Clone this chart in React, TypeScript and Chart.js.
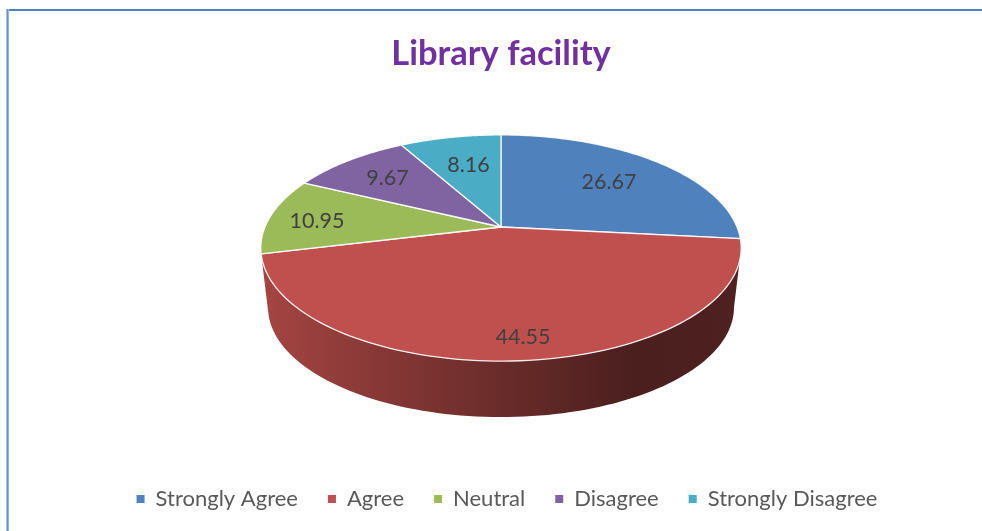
import React, { useEffect, useRef } from "react";
import { Chart, registerables } from "chart.js";

Chart.register(...registerables);

const categories = ["Strongly Agree", "Agree", "Neutral", "Disagree", "Strongly Disagree"];
const seriesValues = [26.67, 44.55, 10.95, 9.67, 8.16];
const sliceColors = ["#4f81bd", "#c0504d", "#9bbb59", "#8064a2", "#4bacc6"];

const FONT = "Lato, Carlito, Calibri, sans-serif";
const TILT = 0.1858;
const Y_RATIO = 0.4627;
const BASE_SCALE = 0.97;
const BASE_DROP = 60;
const LEGEND_SIZE = 22;
const LEGEND_GAP = 30;
const labelRadius = [0.667, 0.85, 0.79, 0.72, 0.65];
const labelTurn = [0, -1.5, -2, 0, 1];

function project(arc: any, angle: number, f = 1, k = 1, drop = 0) {
  const u = Math.cos(angle) * f;
  const v = Math.sin(angle) * f;
  const w = 1 - TILT * v;
  return {
    x: arc.x + (k * arc.outerRadius * u) / w,
    y: arc.y + drop + (k * arc.outerRadius * Y_RATIO * v) / w,
  };
}

function shade(hex: string, f: number) {
  const n = parseInt(hex.slice(1), 16);
  const c = [(n >> 16) & 255, (n >> 8) & 255, n & 255].map((x) => Math.round(x * f));
  return `rgb(${c[0]},${c[1]},${c[2]})`;
}

const pie3d = {
  id: "pie3d",
  afterLayout(chart: any) {
    const a = chart.chartArea;
    a.left = 265; a.right = 737; a.top = 135; a.bottom = 319;
    a.width = a.right - a.left; a.height = a.bottom - a.top;
    const t = chart.titleBlock;
    const titleH = t.bottom - t.top;
    t.left += 10; t.right += 10;
    t.top = 54 - titleH / 2; t.bottom = t.top + titleH;
    const l = chart.legend;
    const legH = l.bottom - l.top;
    l.left += 16; l.right += 16;
    l.top = 499 - LEGEND_GAP - LEGEND_SIZE / 2; l.bottom = l.top + legH;
  },
  beforeDatasetsDraw(chart: any) {
    const { ctx } = chart;
    const arcs = chart.getDatasetMeta(0).data as any[];
    const STEPS = 96;
    ctx.save();
    // side wall: only slices centred on the near half of the disc
    arcs.forEach((arc, i) => {
      if (Math.sin((arc.startAngle + arc.endAngle) / 2) <= 0) return;
      // the wall starts no earlier than the disc's widest point on the right
      const a0 = Math.max(arc.startAngle, Math.asin(TILT));
      const a1 = arc.endAngle;
      const col = sliceColors[i];
      const left = arc.x - arc.outerRadius * 1.018;
      const right = arc.x + arc.outerRadius * 1.018;
      const g = ctx.createLinearGradient(left, 0, right, 0);
      g.addColorStop(0, shade(col, 0.86));
      g.addColorStop(0.25, shade(col, 0.7));
      g.addColorStop(0.5, shade(col, 0.55));
      g.addColorStop(0.78, shade(col, 0.385));
      g.addColorStop(1, shade(col, 0.41));
      ctx.beginPath();
      for (let s = 0; s <= STEPS; s++) {
        const p = project(arc, a0 + ((a1 - a0) * s) / STEPS);
        s === 0 ? ctx.moveTo(p.x, p.y) : ctx.lineTo(p.x, p.y);
      }
      for (let s = STEPS; s >= 0; s--) {
        const p = project(arc, a0 + ((a1 - a0) * s) / STEPS, 1, BASE_SCALE, BASE_DROP);
        ctx.lineTo(p.x, p.y);
      }
      ctx.closePath();
      ctx.fillStyle = g;
      ctx.fill();
    });
    // top face
    arcs.forEach((arc, i) => {
      ctx.beginPath();
      ctx.moveTo(arc.x, arc.y);
      for (let s = 0; s <= STEPS; s++) {
        const p = project(arc, arc.startAngle + ((arc.endAngle - arc.startAngle) * s) / STEPS);
        ctx.lineTo(p.x, p.y);
      }
      ctx.closePath();
      ctx.fillStyle = sliceColors[i];
      ctx.fill();
      ctx.strokeStyle = "rgba(255,255,255,0.9)";
      ctx.lineWidth = 1.3;
      ctx.lineJoin = "round";
      ctx.stroke();
    });
    // value labels
    ctx.fillStyle = "#404040";
    ctx.font = `21.5px ${FONT}`;
    ctx.textAlign = "center";
    ctx.textBaseline = "middle";
    arcs.forEach((arc, i) => {
      const mid = (arc.startAngle + arc.endAngle) / 2 + (labelTurn[i] * Math.PI) / 180;
      const p = project(arc, mid, labelRadius[i]);
      ctx.fillText(seriesValues[i].toFixed(2), p.x, p.y);
    });
    ctx.restore();
    return false;
  },
};

export default function App() {
  const ref = useRef<HTMLCanvasElement>(null);
  useEffect(() => {
    document.body.style.margin = "0";
    const chart = new Chart(ref.current as HTMLCanvasElement, {
      type: "pie",
      plugins: [pie3d],
      data: {
        labels: categories,
        datasets: [{ data: seriesValues, backgroundColor: sliceColors, borderWidth: 0 }],
      },
      options: {
        responsive: false,
        animation: false,
        radius: 236,
        events: [],
        plugins: {
          tooltip: { enabled: false },
          title: {
            display: true,
            text: "Library facility",
            color: "#7030a0",
            font: { family: FONT, size: 34.5, weight: "bold" },
            padding: 0,
          },
          legend: {
            position: "bottom",
            labels: {
              color: "#595959",
              font: { family: FONT, size: LEGEND_SIZE },
              boxWidth: 8,
              boxHeight: 8,
              padding: LEGEND_GAP,
            },
          },
        },
      } as any,
    });
    return () => chart.destroy();
  }, []);
  return (
    <div style={{ position: "relative", width: 982, height: 531, background: "#fff", overflow: "hidden" }}>
      <div style={{ position: "absolute", left: 7, top: 9, right: 0, height: 1.5, background: "#4f81bd" }} />
      <div
        style={{
          position: "absolute",
          left: 6,
          top: 9,
          bottom: 0,
          width: 3,
          background: "linear-gradient(90deg,#a9c4e4 0,#a9c4e4 33%,#5f90c8 33%,#5f90c8 66%,#95b5da 66%)",
        }}
      />
      <canvas ref={ref} width={982} height={531} style={{ position: "absolute", left: 0, top: 0 }} />
    </div>
  );
}
